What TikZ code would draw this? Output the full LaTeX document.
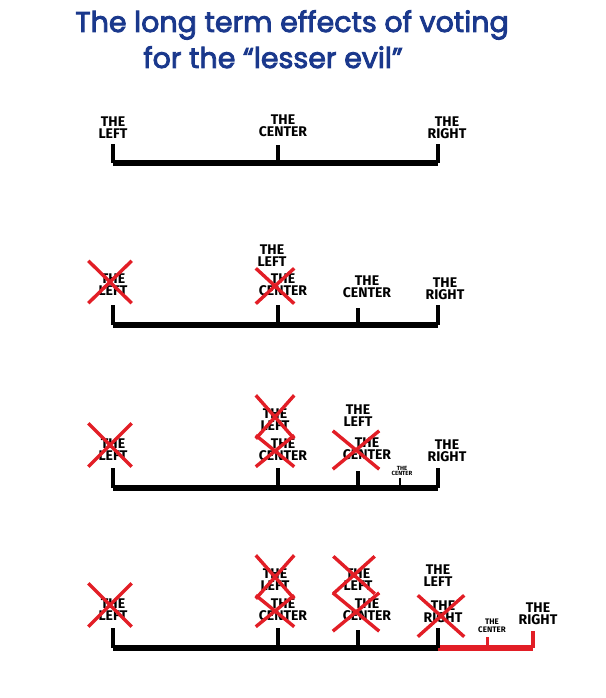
\documentclass[tikz,border=0pt]{standalone}
\usepackage{fontspec}
\setmainfont{Fira Sans}
\newfontfamily\titlefont{Poppins}[BoldFont={Poppins}, BoldFeatures={FakeBold=3}]
\usetikzlibrary{shapes.misc,positioning}
\definecolor{titleblue}{RGB}{26,56,140}
\definecolor{markred}{RGB}{226,30,38}

\begin{document}
\begin{tikzpicture}[x=1pt, y=-1pt,
    party/.style={align=center, inner sep=0pt, font=\bfseries\fontsize{14}{12}\selectfont},
    small party/.style={party, font=\bfseries\fontsize{8}{7.5}\selectfont},
    tiny party/.style={party, font=\bfseries\fontsize{6}{5.5}\selectfont},
    xmark/.style={cross out, draw=markred, line width=3.4pt, inner sep=0pt},
    axis/.style={line width=5.5pt, line join=round},
    notch/.style={line width=4pt},
    heading/.style={anchor=base, text=titleblue, font=\titlefont\bfseries\fontsize{28.5}{30}\selectfont}
]
    \useasboundingbox (0,0) rectangle (605,698);

    % title
    \node[heading] (title1) at (292,32) {The long term effects of voting};
    \node[heading] (title2) at (273,68) {for the “lesser evil”};

    % row 1
    \node[party] (l1) at (113,128) {THE\\LEFT};
    \node[party] (c1) at (283,126) {THE\\CENTER};
    \node[party] (r1) at (447,128) {THE\\RIGHT};
    \coordinate (a1) at (113,163);
    \coordinate (m1) at (278,163);
    \coordinate (b1) at (438,163);
    \draw[axis] (a1) -- (b1);
    \draw[notch] (a1) -- ++(0,-19);
    \draw[notch] (m1) -- ++(0,-18);
    \draw[notch] (b1) -- ++(0,-19);

    % row 2
    \node[party] (l2) at (113,285) {THE\\LEFT};
    \node[party] (l2b) at (272,256) {THE\\LEFT};
    \node[party] (c2) at (283,285) {THE\\CENTER};
    \node[party] (c2b) at (367,287) {THE\\CENTER};
    \node[party] (r2) at (445,289) {THE\\RIGHT};
    \node[xmark, minimum width=40, minimum height=39] (x2a) at (110,282) {};
    \node[xmark, minimum width=35, minimum height=32] (x2b) at (275,286) {};
    \coordinate (a2) at (113,325);
    \coordinate (m2) at (278,325);
    \coordinate (n2) at (358,325);
    \coordinate (b2) at (438,325);
    \draw[axis] (a2) -- (b2);
    \draw[notch] (a2) -- ++(0,-20);
    \draw[notch] (m2) -- ++(0,-20);
    \draw[notch] (n2) -- ++(0,-17);
    \draw[notch] (b2) -- ++(0,-20);

    % row 3
    \node[party] (l3) at (113,450) {THE\\LEFT};
    \node[party] (l3b) at (275,420) {THE\\LEFT};
    \node[party] (c3) at (283,450) {THE\\CENTER};
    \node[party] (l3c) at (358,416) {THE\\LEFT};
    \node[party] (c3b) at (367,449) {THE\\CENTER};
    \node[tiny party] (c3c) at (402,471) {THE\\CENTER};
    \node[party] (r3) at (447,451) {THE\\RIGHT};
    \node[xmark, minimum width=40, minimum height=40] (x3a) at (110,445) {};
    \node[xmark, minimum width=35, minimum height=40] (x3b) at (275,417) {};
    \node[xmark, minimum width=35, minimum height=28] (x3c) at (275,451) {};
    \node[xmark, minimum width=43, minimum height=35] (x3d) at (356,450) {};
    \coordinate (a3) at (113,488);
    \coordinate (m3) at (278,488);
    \coordinate (n3) at (358,488);
    \coordinate (o3) at (400,488);
    \coordinate (b3) at (438,488);
    \draw[axis] (a3) -- (b3);
    \draw[notch] (a3) -- ++(0,-20);
    \draw[notch] (m3) -- ++(0,-20);
    \draw[notch] (n3) -- ++(0,-17);
    \draw[notch, line width=2.5pt] (o3) -- ++(0,-10);
    \draw[notch] (b3) -- ++(0,-20);

    % row 4
    \node[party] (l4) at (113,610) {THE\\LEFT};
    \node[party] (l4b) at (275,580) {THE\\LEFT};
    \node[party] (c4) at (283,610) {THE\\CENTER};
    \node[party] (l4c) at (358,580) {THE\\LEFT};
    \node[party] (c4b) at (367,610) {THE\\CENTER};
    \node[party] (l4d) at (438,576) {THE\\LEFT};
    \node[party] (r4) at (443,612) {THE\\RIGHT};
    \node[small party] (c4c) at (492,626) {THE\\CENTER};
    \node[party] (r4b) at (538,614) {THE\\RIGHT};
    \node[xmark, minimum width=40, minimum height=40] (x4a) at (110,605) {};
    \node[xmark, minimum width=35, minimum height=40] (x4b) at (275,577) {};
    \node[xmark, minimum width=35, minimum height=28] (x4c) at (275,611) {};
    \node[xmark, minimum width=38, minimum height=34] (x4d) at (354,575) {};
    \node[xmark, minimum width=43, minimum height=35] (x4e) at (356,612) {};
    \node[xmark, minimum width=43, minimum height=38] (x4f) at (441,616) {};
    \coordinate (a4) at (113,648);
    \coordinate (m4) at (278,648);
    \coordinate (n4) at (358,648);
    \coordinate (b4) at (438,648);
    \coordinate (p4) at (487,648);
    \coordinate (q4) at (533,648);
    \draw[axis] (a4) -- (b4);
    \draw[axis, markred] (b4) -- (q4);
    \draw[notch] (a4) -- ++(0,-20);
    \draw[notch] (m4) -- ++(0,-20);
    \draw[notch] (n4) -- ++(0,-18);
    \draw[notch] (b4) -- ++(0,-20);
    \draw[notch, markred, line width=3pt] (p4) -- ++(0,-11);
    \draw[notch, markred] (q4) -- ++(0,-17);
\end{tikzpicture}
\end{document}
